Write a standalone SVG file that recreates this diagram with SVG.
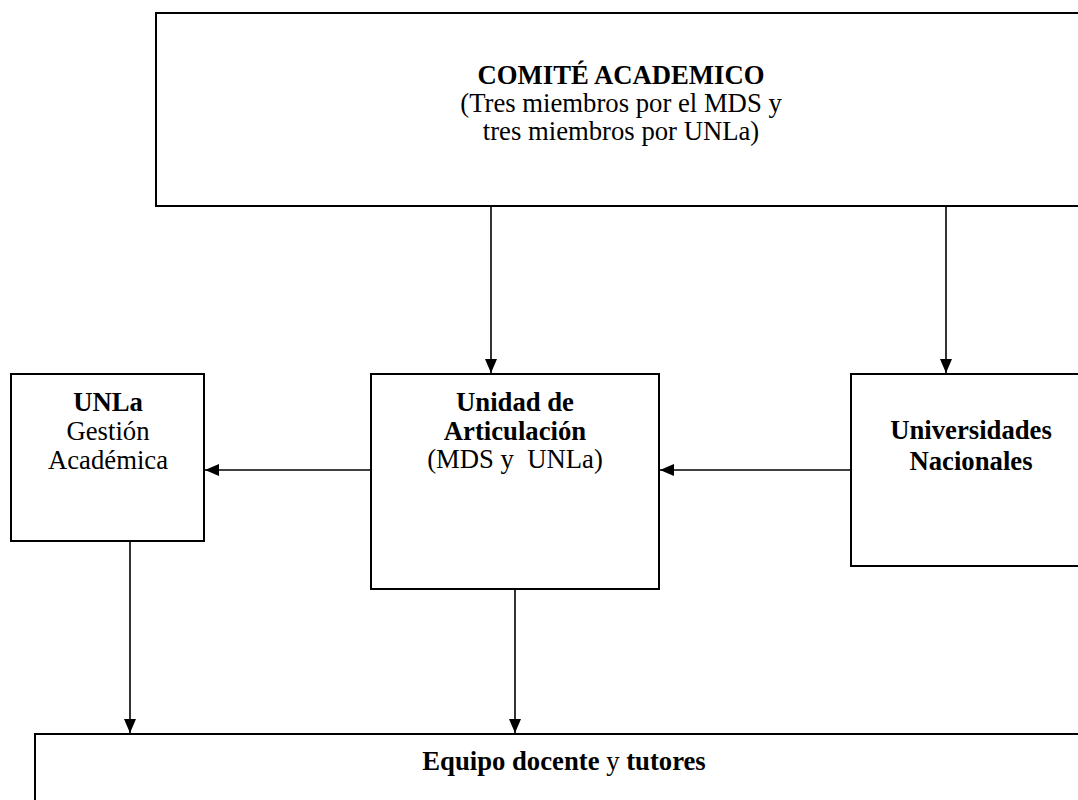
<svg xmlns="http://www.w3.org/2000/svg" width="1078" height="800" viewBox="0 0 1078 800">
  <defs>
    <style>
      .box { fill: #ffffff; stroke: #000000; stroke-width: 2; }
      .conn { stroke: #000000; stroke-width: 1.6; fill: none; }
      text { font-family: "Liberation Serif", "Times New Roman", serif; font-size: 26.7px; fill: #000000; text-anchor: middle; white-space: pre; }
      .b { font-weight: bold; }
    </style>
    <marker id="arrow" viewBox="0 0 14 12" refX="14" refY="6" markerWidth="14" markerHeight="12" markerUnits="userSpaceOnUse" orient="auto">
      <path d="M0,0 L14,6 L0,12 Z" fill="#000000"/>
    </marker>
  </defs>
  <rect width="1078" height="800" fill="#ffffff"/>

  <g id="comite">
    <rect class="box" x="156" y="13" width="940" height="193"/>
    <text x="621" y="84" class="b">COMITÉ ACADEMICO</text>
    <text x="621" y="112">(Tres miembros por el MDS y</text>
    <text x="621" y="140">tres miembros por UNLa)</text>
  </g>

  <g id="unla">
    <rect class="box" x="11" y="374" width="193" height="167"/>
    <text x="108" y="411" class="b">UNLa</text>
    <text x="108" y="440">Gestión</text>
    <text x="108" y="469">Académica</text>
  </g>

  <g id="unidad">
    <rect class="box" x="371" y="374" width="288" height="215"/>
    <text x="515" y="411" class="b">Unidad de</text>
    <text x="515" y="440" class="b">Articulación</text>
    <text x="515" y="468">(MDS y  UNLa)</text>
  </g>

  <g id="universidades">
    <rect class="box" x="851" y="374" width="260" height="192"/>
    <text x="971" y="439" class="b">Universidades</text>
    <text x="971" y="470" class="b">Nacionales</text>
  </g>

  <g id="equipo">
    <rect class="box" x="35" y="734" width="1080" height="100"/>
    <text x="564" y="770"><tspan class="b">Equipo docente</tspan> y <tspan class="b">tutores</tspan></text>
  </g>

  <g id="connectors">
    <line class="conn" x1="491" y1="206" x2="491" y2="373" marker-end="url(#arrow)"/>
    <line class="conn" x1="946" y1="206" x2="946" y2="373" marker-end="url(#arrow)"/>
    <line class="conn" x1="371" y1="470" x2="205" y2="470" marker-end="url(#arrow)"/>
    <line class="conn" x1="851" y1="470" x2="660" y2="470" marker-end="url(#arrow)"/>
    <line class="conn" x1="130" y1="541" x2="130" y2="733" marker-end="url(#arrow)"/>
    <line class="conn" x1="515" y1="589" x2="515" y2="733" marker-end="url(#arrow)"/>
  </g>
</svg>
